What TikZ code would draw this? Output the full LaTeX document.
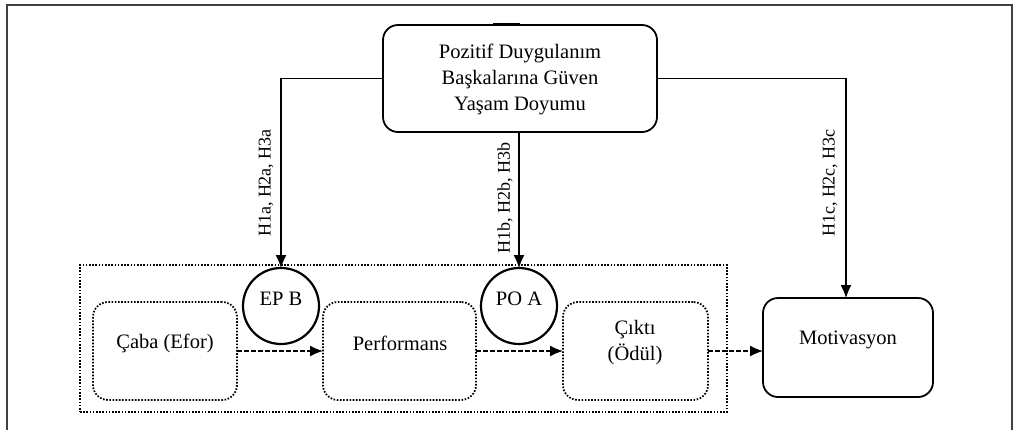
\documentclass[tikz,border=0pt]{standalone}
\usepackage{fontspec}
\setmainfont{Liberation Serif}
\usetikzlibrary{arrows.meta,shapes.geometric}
\begin{document}
\begin{tikzpicture}[x=1pt,y=-1pt,
  every node/.style={inner sep=0pt,outer sep=0pt},
  boxfont/.style={font=\fontsize{20.5pt}{26pt}\selectfont},
  lblfont/.style={font=\fontsize{18pt}{20pt}\selectfont},
  solidbox/.style={draw,line width=1.8pt,rounded corners=15pt,fill=white},
  dotbox/.style={draw,line width=1.8pt,dash pattern=on 1.6pt off 1.6pt,rounded corners=15pt},
  grpbox/.style={draw,line width=1.8pt,dash pattern=on 1.6pt off 1.6pt},
  circ/.style={draw,circle,line width=2.2pt,fill=white,minimum size=76pt,boxfont},
  arr/.style={line width=1.2pt,-{Latex[length=13pt,width=11pt]}},
  darr/.style={line width=1.4pt,dash pattern=on 4.5pt off 2.5pt,-{Latex[length=13pt,width=11pt]}},
  frame/.style={draw=black!75,line width=1.6pt}]
\useasboundingbox (0,0) rectangle (1015,429);
% outer frame
\draw[frame] (7,431) -- (7,5) -- (1012,5) -- (1012,431);
% group box
\node[grpbox,minimum width=647pt,minimum height=147pt] (grp) at (403.5,338.5) {};
% top box
\node[solidbox,minimum width=274pt,minimum height=107pt] (top) at (520,78.5) {};
\node[boxfont,align=center] (topT) at (520,79) {Pozitif Duygulanım\\Başkalarına Güven\\Yaşam Doyumu};
\draw[line width=2.5pt] (top.north) ++(-27,-1) coordinate (tb1) -- ++(27,0) coordinate (tb2);
% inner dotted boxes
\node[dotbox,minimum width=144pt,minimum height=98pt] (caba) at (165,351) {};
\node[boxfont] (cabaT) at (165,343) {Çaba (Efor)};
\node[dotbox,minimum width=153pt,minimum height=98pt] (perf) at (399.5,351) {};
\node[boxfont] (perfT) at (400,343) {Performans};
\node[dotbox,minimum width=145pt,minimum height=98pt] (cikti) at (635.5,351) {};
\node[boxfont,align=center] (ciktiT) at (635,342.5) {Çıktı\\(Ödül)};
% motivasyon
\node[solidbox,minimum width=170pt,minimum height=99pt] (mot) at (848,347.5) {};
\node[boxfont] (motT) at (848,340) {Motivasyon};
% circles
\node[circ] (epb) at (281,306) {};
\node[boxfont] (epbT) at (281,299) {EP B};
\node[circ] (poa) at (519,306) {};
\node[boxfont] (poaT) at (519,299) {PO A};
% connectors
\draw[arr] (top.west) -| (epb.north);
\draw[arr] (top.south -| poa.north) -- (poa.north);
\draw[arr] (top.east) -| ([xshift=-2pt]mot.north);
\draw[darr] (caba.east) -- (perf.west);
\draw[darr] (perf.east) -- (cikti.west);
\draw[darr] (cikti.east) -- (cikti.east -| mot.west);
% labels
\node[lblfont,rotate=90] (l1) at (266,183) {H1a, H2a, H3a};
\node[lblfont,rotate=90] (l2) at (505,198) {H1b, H2b, H3b};
\node[lblfont,rotate=90] (l3) at (830,183) {H1c, H2c, H3c};
\end{tikzpicture}
\end{document}
